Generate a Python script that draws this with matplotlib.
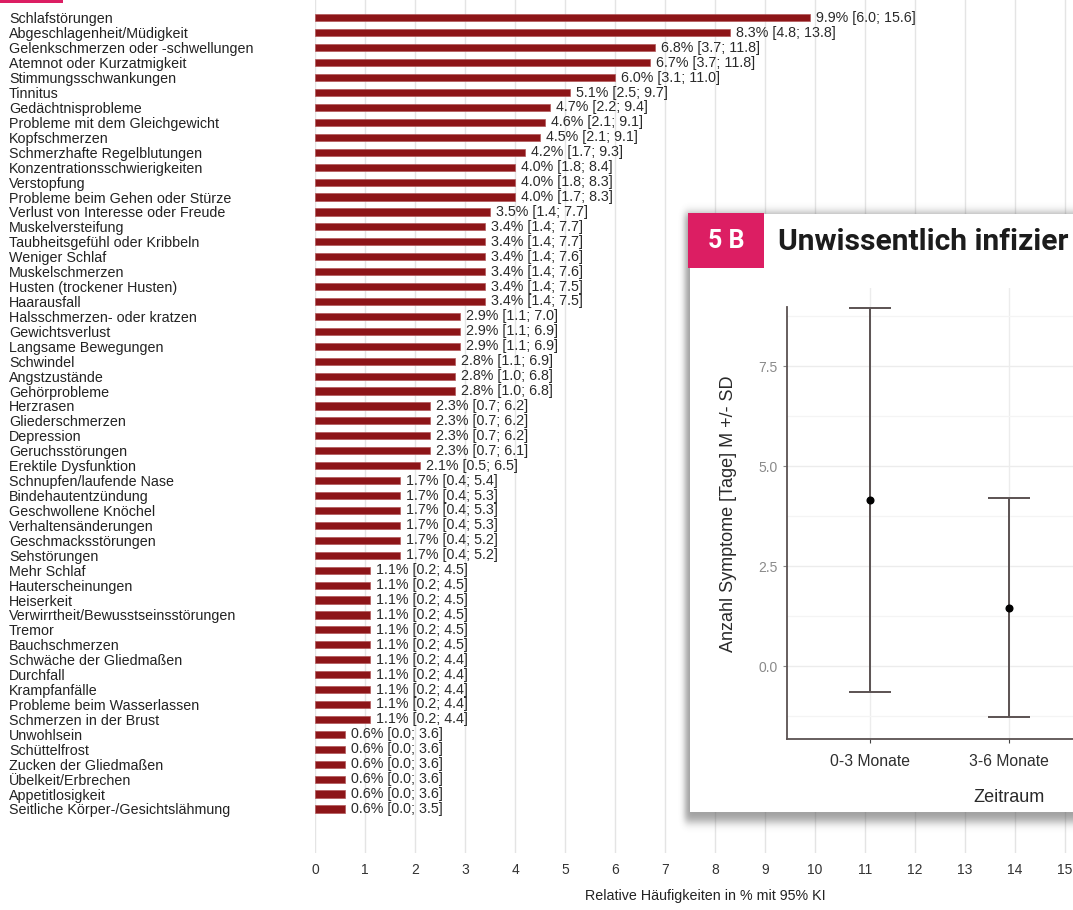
import math
import numpy as np
import matplotlib
matplotlib.use("Agg")
import matplotlib.pyplot as plt
from matplotlib.patches import Rectangle

W, H, DPI = 1073, 910, 100

# ---- symptom frequencies (relative share in %, 95% CI) ----
symptoms = [
    "Schlafstörungen", "Abgeschlagenheit/Müdigkeit", "Gelenkschmerzen oder -schwellungen",
    "Atemnot oder Kurzatmigkeit", "Stimmungsschwankungen", "Tinnitus", "Gedächtnisprobleme",
    "Probleme mit dem Gleichgewicht", "Kopfschmerzen", "Schmerzhafte Regelblutungen",
    "Konzentrationsschwierigkeiten", "Verstopfung", "Probleme beim Gehen oder Stürze",
    "Verlust von Interesse oder Freude", "Muskelversteifung", "Taubheitsgefühl oder Kribbeln",
    "Weniger Schlaf", "Muskelschmerzen", "Husten (trockener Husten)", "Haarausfall",
    "Halsschmerzen- oder kratzen", "Gewichtsverlust", "Langsame Bewegungen", "Schwindel",
    "Angstzustände", "Gehörprobleme", "Herzrasen", "Gliederschmerzen", "Depression",
    "Geruchsstörungen", "Erektile Dysfunktion", "Schnupfen/laufende Nase",
    "Bindehautentzündung", "Geschwollene Knöchel", "Verhaltensänderungen",
    "Geschmacksstörungen", "Sehstörungen", "Mehr Schlaf", "Hauterscheinungen", "Heiserkeit",
    "Verwirrtheit/Bewusstseinsstörungen", "Tremor", "Bauchschmerzen",
    "Schwäche der Gliedmaßen", "Durchfall", "Krampfanfälle", "Probleme beim Wasserlassen",
    "Schmerzen in der Brust", "Unwohlsein", "Schüttelfrost", "Zucken der Gliedmaßen",
    "Übelkeit/Erbrechen", "Appetitlosigkeit", "Seitliche Körper-/Gesichtslähmung",
]
share = [
    9.9, 8.3, 6.8, 6.7, 6.0, 5.1, 4.7, 4.6, 4.5, 4.2, 4.0, 4.0, 4.0, 3.5, 3.4, 3.4, 3.4, 3.4,
    3.4, 3.4, 2.9, 2.9, 2.9, 2.8, 2.8, 2.8, 2.3, 2.3, 2.3, 2.3, 2.1, 1.7, 1.7, 1.7, 1.7, 1.7,
    1.7, 1.1, 1.1, 1.1, 1.1, 1.1, 1.1, 1.1, 1.1, 1.1, 1.1, 1.1, 0.6, 0.6, 0.6, 0.6, 0.6, 0.6,
]
ci_low = [
    6.0, 4.8, 3.7, 3.7, 3.1, 2.5, 2.2, 2.1, 2.1, 1.7, 1.8, 1.8, 1.7, 1.4, 1.4, 1.4, 1.4, 1.4,
    1.4, 1.4, 1.1, 1.1, 1.1, 1.1, 1.0, 1.0, 0.7, 0.7, 0.7, 0.7, 0.5, 0.4, 0.4, 0.4, 0.4, 0.4,
    0.4, 0.2, 0.2, 0.2, 0.2, 0.2, 0.2, 0.2, 0.2, 0.2, 0.2, 0.2, 0.0, 0.0, 0.0, 0.0, 0.0, 0.0,
]
ci_high = [
    15.6, 13.8, 11.8, 11.8, 11.0, 9.7, 9.4, 9.1, 9.1, 9.3, 8.4, 8.3, 8.3, 7.7, 7.7, 7.7, 7.6,
    7.6, 7.5, 7.5, 7.0, 6.9, 6.9, 6.9, 6.8, 6.8, 6.2, 6.2, 6.2, 6.1, 6.5, 5.4, 5.3, 5.3, 5.3,
    5.2, 5.2, 4.5, 4.5, 4.5, 4.5, 4.5, 4.5, 4.4, 4.4, 4.4, 4.4, 4.4, 3.6, 3.6, 3.6, 3.6, 3.6,
    3.5,
]
x_ticks = list(range(16))

# ---- panel 5 B: symptom days per period (mean +/- SD) ----
panel_tag = "5 B"
panel_title = "Unwissentlich infizier"
periods = ["0-3 Monate", "3-6 Monate"]
mean_days = [4.15, 1.46]
sd_days = [4.80, 2.73]
day_ticks = [0.0, 2.5, 5.0, 7.5]

PINK = "#DC1E63"
BAR = "#8d1518"

plt.rcParams["font.family"] = ["Liberation Sans", "DejaVu Sans"]


def box(left, top, right, bottom):
    """Pixel box (from top-left) -> figure fraction [l, b, w, h]."""
    return [left / W, 1 - bottom / H, (right - left) / W, (bottom - top) / H]


fig = plt.figure(figsize=(W / DPI, H / DPI), dpi=DPI)
fig.patch.set_facecolor("white")

# ---------------- main bar chart ----------------
ax = fig.add_axes(box(315, 0, 1095, 853))
ax.set_zorder(0)
ypos = np.arange(len(symptoms))
ax.barh(ypos, share, height=0.48, color=BAR, edgecolor="#b2585a", linewidth=0.5, zorder=3)
for yi, v, lo, hi in zip(ypos, share, ci_low, ci_high):
    ax.annotate(f"{v:.1f}% [{lo:.1f}; {hi:.1f}]", (v, yi), xytext=(4.5, 0),
                textcoords="offset points", ha="left", va="center",
                fontsize=10.3, color="#2a2a2a", zorder=4)
ax.set_xlim(0, 15.6)
ax.set_ylim(len(symptoms) - 1 + 2.95, -1.2)
ax.set_yticks(ypos, symptoms)
ax.tick_params(axis="y", length=0, pad=220.3, labelsize=10.3, labelcolor="#222222")
for lab in ax.get_yticklabels():
    lab.set_ha("left")
ax.set_xticks(x_ticks)
ax.tick_params(axis="x", length=0, pad=7, labelsize=10, labelcolor="#333333")
ax.grid(axis="x", color="#e4e4e4", linewidth=1.0)
ax.grid(axis="y", visible=False)
ax.set_axisbelow(True)
for s in ax.spines.values():
    s.set_visible(False)
ax.set_xlabel("Relative Häufigkeiten in % mit 95% KI", fontsize=10.3,
              color="#222222", labelpad=9)

# pink marker strip at the top-left corner
fig.patches.append(Rectangle((0, 1 - 3 / H), 63 / W, 3 / H, transform=fig.transFigure,
                             facecolor=PINK, edgecolor="none", zorder=2))

# ---------------- panel 5 B: card with soft shadow ----------------
erf = np.vectorize(math.erf)


def soft_profile(coords, a, b, sigma):
    return 0.5 * (erf((coords - a) / (sigma * math.sqrt(2))) -
                  erf((coords - b) / (sigma * math.sqrt(2))))


xs = np.arange(W) + 0.5
ys = np.arange(H) + 0.5
alpha = np.outer(soft_profile(ys, 213, 822, 4.5), soft_profile(xs, 685, 1200, 3.0)) * 0.55
shadow = np.zeros((H, W, 4))
shadow[..., :3] = 0.33
shadow[..., 3] = alpha
fig.figimage(shadow, xo=0, yo=0, origin="upper", zorder=1)

fig.patches.append(Rectangle((690 / W, 1 - 812 / H), (W - 690) / W + 0.01, (812 - 214) / H,
                             transform=fig.transFigure, facecolor="white",
                             edgecolor="none", zorder=2))
fig.patches.append(Rectangle((688 / W, 1 - 268 / H), (764 - 688) / W, (268 - 213) / H,
                             transform=fig.transFigure, facecolor=PINK,
                             edgecolor="none", zorder=3))
fig.text(726 / W, 1 - 241 / H, panel_tag, color="white", fontsize=18, fontweight="bold",
         family=["Roboto", "DejaVu Sans"], ha="center", va="center", zorder=4)
fig.text(778 / W, 1 - 242 / H, panel_title, color="#1c1c1c", fontsize=21.6,
         fontweight="bold", family=["Roboto", "DejaVu Sans"], ha="left", va="center",
         zorder=4)

# ---------------- panel 5 B: error bar chart ----------------
ax2 = fig.add_axes(box(787, 288, 1231, 739))
ax2.set_zorder(5)
ax2.set_facecolor("white")
xp = np.arange(1, len(periods) + 1)
ax2.errorbar(xp, mean_days, yerr=sd_days, fmt="o", color="black", markersize=4.8,
             ecolor="#5b5252", elinewidth=1.4, capsize=14.8, capthick=1.4, zorder=3)
ax2.set_xlim(0.4, 3.6)
ax2.set_ylim(-1.825, 9.45)
ax2.set_yticks(day_ticks, [f"{t:.1f}" for t in day_ticks])
ax2.set_yticks(np.arange(-1.25, 9.5, 2.5), minor=True)
ax2.set_xticks(xp, periods)
ax2.grid(which="major", color="#ececec", linewidth=1.0)
ax2.grid(which="minor", axis="y", color="#f4f4f4", linewidth=0.9)
ax2.set_axisbelow(True)
ax2.tick_params(axis="y", which="major", length=3, width=0.8, color="#8a8a8a",
                labelcolor="#8a8a8a", labelsize=10, pad=4)
ax2.tick_params(axis="y", which="minor", length=0)
ax2.tick_params(axis="x", length=3, width=0.8, color="#444444", labelcolor="#2e2e2e",
                labelsize=11.3, pad=8)
for side in ("top", "right"):
    ax2.spines[side].set_visible(False)
for side in ("left", "bottom"):
    ax2.spines[side].set_color("#5b5252")
    ax2.spines[side].set_linewidth(1.3)
ax2.spines["left"].set_bounds(-1.825, 8.97)
ax2.set_xlabel("Zeitraum", fontsize=13, color="#2a2a2a", labelpad=14)
ax2.set_ylabel("Anzahl Symptome [Tage] M +/- SD", fontsize=13, color="#2a2a2a",
               labelpad=15)

fig.savefig("out.png", dpi=DPI, facecolor="white")
